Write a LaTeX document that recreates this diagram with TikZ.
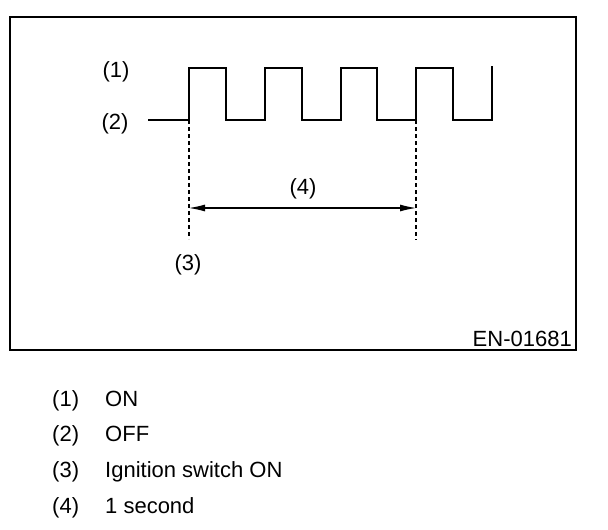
\documentclass[tikz,border=0pt]{standalone}
\usepackage{fontspec}
\setmainfont{Liberation Sans}
\usetikzlibrary{arrows.meta}
\begin{document}
\begin{tikzpicture}[x=1pt,y=-1pt,
  lbl/.style={font=\fontsize{22}{26}\selectfont, inner sep=0pt},
  key/.style={lbl, anchor=base west},
  wave/.style={line width=1.8pt, line join=miter},
  guide/.style={line width=1.3pt, dash pattern=on 4pt off 3pt},
  dim/.style={line width=1.1pt, {Latex[length=16pt,width=7pt]}-{Latex[length=16pt,width=7pt]}}]
\useasboundingbox (0,0) rectangle (608,530);
\draw[line width=1.6pt] (10,17) rectangle (576,350);
% waveform
\draw[wave] (148,120) -- (189,120) -- (189,68) -- (226,68) -- (226,120) -- (265,120)
  -- (265,68) -- (302,68) -- (302,120) -- (341,120) -- (341,68) -- (377,68) -- (377,120)
  -- (416,120) -- (416,68) -- (453,68) -- (453,120) -- (492,120) -- (492,66);
% guides
\coordinate (g1t) at (189,120);
\coordinate (g1b) at (189,239);
\coordinate (g2t) at (416,120);
\coordinate (g2b) at (416,240);
\draw[guide] (g1t) -- (g1b);
\draw[guide] (g2t) -- (g2b);
\coordinate (a1) at (189,208);
\coordinate (a2) at (416,208);
\draw[dim] (a1) -- (a2);
\node[lbl] (l4) at (303,189) {(4)};
\node[lbl] (l3) at (188,265) {(3)};
\node[lbl] (l1) at (116,72) {(1)};
\node[lbl] (l2) at (115,124) {(2)};
\node[lbl, anchor=base east] (code) at (572,346) {EN-01681};
% legend
\node[key] (k1) at (52,406) {(1)};
\node[key] (v1) at (105,406) {ON};
\node[key] (k2) at (52,441) {(2)};
\node[key] (v2) at (105,441) {OFF};
\node[key] (k3) at (52,477) {(3)};
\node[key] (v3) at (105,477) {Ignition switch ON};
\node[key] (k4) at (52,513) {(4)};
\node[key] (v4) at (105,513) {1 second};
\end{tikzpicture}
\end{document}
